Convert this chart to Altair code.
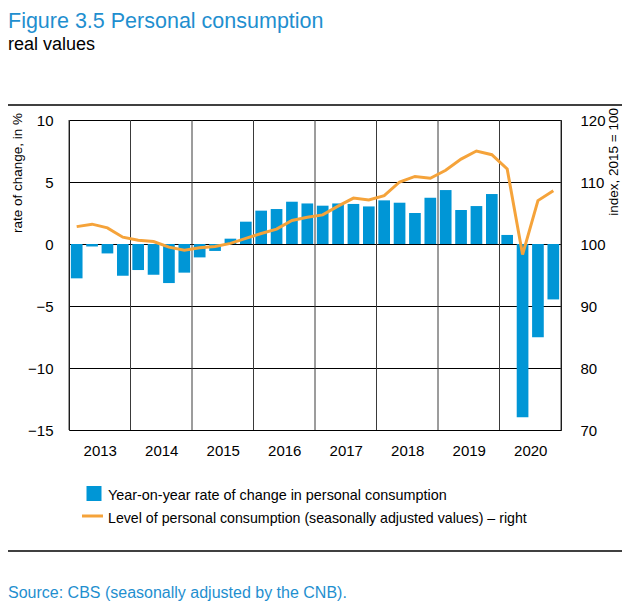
import altair as alt
import pandas as pd

# ---- data ----
years = [2013, 2014, 2015, 2016, 2017, 2018, 2019, 2020]
yoy_change = [-2.77, -0.20, -0.76, -2.56,
              -2.10, -2.48, -3.15, -2.31,
              -1.08, -0.56, 0.43, 1.80,
              2.69, 2.82, 3.41, 3.27,
              3.09, 3.27, 3.23, 3.03,
              3.52, 3.33, 2.50, 3.73,
              4.35, 2.74, 3.06, 4.03,
              0.73, -13.98, -7.53, -4.47]
level_index = [102.8, 103.2, 102.6, 101.1,
               100.6, 100.4, 99.5, 99.0,
               99.4, 99.6, 100.1, 100.9,
               101.7, 102.4, 103.8, 104.3,
               104.7, 106.1, 107.4, 107.1,
               107.8, 110.0, 110.9, 110.6,
               111.9, 113.7, 115.0, 114.4,
               112.1, 98.3, 107.0, 108.6]
left_ticks = [-15, -10, -5, 0, 5, 10]
right_ticks = [70, 80, 90, 100, 110, 120]

title_text = "Figure 3.5 Personal consumption"
subtitle_text = "real values"
left_title = "rate of change, in %"
right_title = "index, 2015 = 100"
legend_bar = "Year-on-year rate of change in personal consumption"
legend_line = "Level of personal consumption (seasonally adjusted values) \u2013 right"
source_text = "Source: CBS (seasonally adjusted by the CNB)."

BLUE = "#0096d6"
ORANGE = "#f5a33a"
TITLE_BLUE = "#1f8fcf"
FONT = "'Liberation Sans', Arial, Helvetica, sans-serif"

rows = []
for i, v in enumerate(yoy_change):
    yr = years[i // 4]
    q = i % 4 + 1
    rows.append({
        "start": yr + (q - 1) / 4 + 0.03,
        "end": yr + q / 4 - 0.03,
        "mid": yr + (q - 0.5) / 4,
        "yoy": v,
        "level": level_index[i],
    })
df = pd.DataFrame(rows)
bounds = pd.DataFrame({"yb": years + [years[-1] + 1]})

W, H = 492, 310

x_scale = alt.Scale(domain=[years[0], years[-1] + 1], nice=False, zero=False)
x_axis = alt.Axis(values=[y + 0.5 for y in years], labelExpr="floor(datum.value)",
                  grid=False, ticks=False, tickSize=0, domain=False, title=None,
                  labelFont=FONT, labelFontSize=15, labelColor="black",
                  labelPadding=13)

year_rules = alt.Chart(bounds).mark_rule(color="#3a3a3a", strokeWidth=1).encode(
    x=alt.X("yb:Q", scale=x_scale, axis=x_axis)
)

bars = alt.Chart(df).mark_bar(color=BLUE).encode(
    x=alt.X("start:Q", scale=x_scale, axis=x_axis),
    x2="end:Q",
    y=alt.Y("yoy:Q", scale=alt.Scale(domain=[-15, 10], nice=False, zero=False),
            axis=alt.Axis(values=left_ticks, orient="left", grid=True, gridColor="black",
                          gridOpacity=1, gridWidth=1, ticks=False, tickSize=0,
                          domain=True, domainColor="black", domainWidth=1,
                          labelFont=FONT, labelFontSize=15, labelColor="black",
                          labelPadding=16, title=None)),
    y2=alt.datum(0),
)

line = alt.Chart(df).mark_line(color=ORANGE, strokeWidth=3).encode(
    x=alt.X("mid:Q", scale=x_scale, axis=x_axis),
    y=alt.Y("level:Q", scale=alt.Scale(domain=[70, 120], nice=False, zero=False),
            axis=alt.Axis(values=right_ticks, orient="right", grid=False, ticks=False,
                          tickSize=0, domain=True, domainColor="black", domainWidth=1,
                          labelFont=FONT, labelFontSize=15, labelColor="black",
                          labelPadding=19, title=None)),
)


def txt(s, x, y, size, color="black", angle=0, align="left", baseline="alphabetic"):
    return alt.Chart(pd.DataFrame({"t": [s]})).mark_text(
        font=FONT, fontSize=size, color=color, angle=angle, align=align,
        baseline=baseline
    ).encode(x=alt.value(x), y=alt.value(y), text="t:N")


one = pd.DataFrame({"k": [0]})
top_rule = alt.Chart(one).mark_rule(color="black", strokeWidth=1.3).encode(
    x=alt.value(-61), x2=alt.value(553), y=alt.value(-15))
bottom_rule = alt.Chart(one).mark_rule(color="black", strokeWidth=1.3).encode(
    x=alt.value(-61), x2=alt.value(553), y=alt.value(431))
legend_square = alt.Chart(one).mark_square(size=225, color=BLUE, opacity=1,
                                           filled=True).encode(
    x=alt.value(25), y=alt.value(373.5))
legend_stroke = alt.Chart(one).mark_rule(color=ORANGE, strokeWidth=3).encode(
    x=alt.value(13), x2=alt.value(34), y=alt.value(396))

texts = [
    txt(title_text, -61, -92, 21.5, TITLE_BLUE),
    txt(subtitle_text, -61, -70, 18),
    txt(left_title, -51, -7, 13.5, angle=270, align="right", baseline="middle"),
    txt(right_title, 545, -12, 13.5, angle=270, align="right", baseline="middle"),
    txt(legend_bar, 39, 380, 14.4),
    txt(legend_line, 39, 403, 14.2),
    txt(source_text, -61, 478, 16, TITLE_BLUE),
]

chart = alt.layer(
    year_rules, bars, line, top_rule, bottom_rule, legend_square, legend_stroke, *texts
).resolve_scale(y="independent").properties(
    width=W, height=H,
    autosize=alt.AutoSizeParams(type="none"),
    padding={"left": 61, "top": 112, "right": 61, "bottom": 171},
).configure_view(stroke="black", strokeWidth=1).configure(background="white")

chart.save("out.html", embed_options={"renderer": "svg", "actions": False})
